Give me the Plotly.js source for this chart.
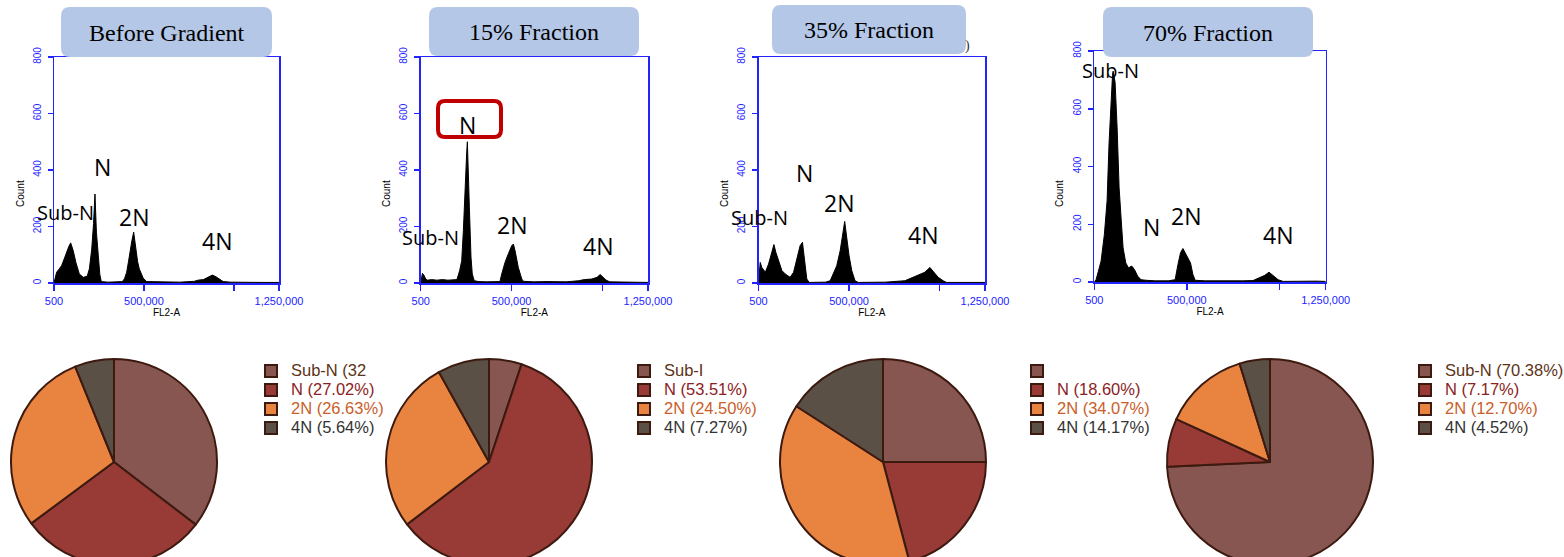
<!DOCTYPE html>
<html><head><meta charset="utf-8">
<script src="https://cdn.plot.ly/plotly-3.0.1.min.js"></script>
<style>html,body{margin:0;padding:0;overflow:hidden;background:#fff}#chart{width:1564px;height:580px}</style>
</head><body><div id="chart"></div>
<script>
// ---------- data ----------
const panelTitles = ['Before Gradient', '15% Fraction', '35% Fraction', '70% Fraction'];
const fl2Ticks = [500, 500000, 1000000, 1250000];
const fl2TickText = ['500', '500,000', '', '1,250,000'];
const countTicks = [0, 200, 400, 600, 800];

const beforeFL2 = [500, 8000, 15000, 30000, 43000, 57000, 70000, 82000, 93000, 107000, 122000, 141000, 163000, 185000, 197000, 210000, 220000, 228000, 236000, 245000, 255000, 263000, 300000, 350000, 380000, 392000, 404000, 414000, 422000, 433000, 443000, 450000, 456000, 465000, 474000, 485000, 496000, 515000, 600000, 700000, 780000, 800000, 830000, 860000, 880000, 900000, 920000, 940000, 980000, 1050000, 1150000, 1250000];
const beforeCount = [0, 25, 38, 50, 62, 85, 109, 128, 142, 115, 73, 32, 20, 24, 50, 120, 210, 315, 180, 95, 30, 5, 3, 4, 5, 15, 38, 75, 109, 150, 180, 150, 109, 75, 50, 30, 17, 5, 4, 3, 6, 10, 12, 20, 28, 22, 12, 5, 3, 2, 2, 2];

const frac15FL2 = [500, 10000, 18000, 28000, 38000, 60000, 90000, 120000, 150000, 180000, 200000, 215000, 226000, 235000, 244000, 253000, 257000, 262000, 268000, 277000, 284000, 295000, 320000, 360000, 400000, 436000, 446000, 464000, 482000, 501000, 510000, 519000, 537000, 556000, 565000, 620000, 700000, 800000, 868000, 900000, 940000, 970000, 987000, 1000000, 1020000, 1040000, 1100000, 1180000, 1250000];
const frac15Count = [0, 34, 28, 14, 10, 12, 10, 12, 10, 10, 12, 45, 79, 185, 350, 457, 500, 362, 268, 91, 32, 8, 5, 4, 5, 5, 32, 73, 103, 132, 138, 115, 55, 14, 6, 4, 5, 4, 8, 12, 14, 20, 30, 22, 10, 4, 3, 3, 2];

const frac35FL2 = [500, 10000, 19000, 38000, 56000, 74500, 85500, 96500, 111000, 129500, 148000, 175000, 194000, 212000, 230000, 243000, 254000, 267000, 280000, 320000, 370000, 396000, 414000, 432000, 451000, 464000, 476000, 487000, 500000, 515000, 533000, 551000, 600000, 700000, 808000, 845000, 882000, 918000, 946000, 970000, 992000, 1019000, 1038000, 1100000, 1180000, 1250000];
const frac35Count = [0, 73, 55, 38, 67, 114, 136, 108, 79, 44, 32, 20, 38, 91, 132, 144, 85, 14, 2, 3, 3, 8, 32, 61, 114, 173, 218, 162, 97, 44, 8, 2, 3, 3, 8, 18, 26, 38, 55, 38, 20, 8, 2, 2, 2, 2];

const frac70FL2 = [500, 10000, 22500, 37000, 55000, 69500, 80000, 91000, 98700, 102000, 112700, 123600, 134400, 145000, 156000, 170500, 185000, 203000, 217400, 235000, 253000, 280000, 330000, 400000, 437000, 452000, 466000, 479000, 491500, 506000, 520000, 533000, 545000, 600000, 700000, 800000, 857700, 893800, 920800, 944000, 966000, 993000, 1020000, 1100000, 1200000, 1250000];
const frac70Count = [0, 8, 37, 72, 165, 281, 478, 652, 716, 730, 692, 536, 327, 223, 118, 66, 49, 55, 43, 20, 8, 6, 4, 4, 8, 60, 101, 116, 101, 78, 66, 26, 6, 4, 3, 4, 5, 14, 23, 34, 22, 8, 2, 3, 3, 2];

const populations = ['Sub-N', 'N', '2N', '4N'];
const beforePct = [32.5, 27.02, 26.63, 5.64];
const frac15Pct = [4.6, 53.51, 24.50, 7.27];
const frac35Pct = [22.3, 18.60, 34.07, 14.17];
const frac70Pct = [70.38, 7.17, 12.70, 4.52];
const beforeLegend = ['Sub-N (32', 'N (27.02%)', '2N (26.63%)', '4N (5.64%)'];
const frac15Legend = ['Sub-I', 'N (53.51%)', '2N (24.50%)', '4N (7.27%)'];
const frac35Legend = ['\u00a0', 'N (18.60%)', '2N (34.07%)', '4N (14.17%)'];
const frac70Legend = ['Sub-N (70.38%)', 'N (7.17%)', '2N (12.70%)', '4N (4.52%)'];

const peakLabels = ['Sub-N', 'N', '2N', '4N'];

// ---------- styling / layout helpers ----------
const W = 1564, H = 580;
const BLUE = '#2323ff';
const sliceColors = ['#875650', '#983a35', '#e8843f', '#5b5046'];
const legendTextColors = ['#5c3317', '#8b2222', '#c8602a', '#333333'];
const px = x => x / W;
const py = y => 1 - y / H;

const hist = [
  {x: beforeFL2, y: beforeCount, l: 54, r: 279, t: 57, b: 283},
  {x: frac15FL2, y: frac15Count, l: 420.7, r: 648, t: 57, b: 283},
  {x: frac35FL2, y: frac35Count, l: 758.5, r: 985, t: 57, b: 283},
  {x: frac70FL2, y: frac70Count, l: 1094.3, r: 1325.7, t: 51, b: 282}
];
const pies = [
  {v: beforePct, t: beforeLegend, cx: 114, lx: 251},
  {v: frac15Pct, t: frac15Legend, cx: 489, lx: 624},
  {v: frac35Pct, t: frac35Legend, cx: 883, lx: 1017},
  {v: frac70Pct, t: frac70Legend, cx: 1270, lx: 1405}
];
const titleBoxes = [[61, 7, 272, 57], [429, 7, 639, 56], [772, 5, 966, 54], [1103, 7, 1313, 57]];
const countPos = [20, 386, 724, 1059];
// peak label pixel positions: [Sub-N, N, 2N, 4N]
const peakPos = [
  [[65, 212], [102, 167], [134, 217], [217, 241]],
  [[430, 237], [467, 125], [512, 225], [598, 246]],
  [[759, 218], [804, 173], [839, 203], [923, 235]],
  [[1110, 70], [1151, 227], [1186, 216], [1278, 235]]
];

function roundRect(x0, y0, x1, y1, r) {
  const X = v => px(v), Y = v => py(v);
  return `M${X(x0 + r)},${Y(y0)} L${X(x1 - r)},${Y(y0)} Q${X(x1)},${Y(y0)} ${X(x1)},${Y(y0 + r)} ` +
    `L${X(x1)},${Y(y1 - r)} Q${X(x1)},${Y(y1)} ${X(x1 - r)},${Y(y1)} L${X(x0 + r)},${Y(y1)} ` +
    `Q${X(x0)},${Y(y1)} ${X(x0)},${Y(y1 - r)} L${X(x0)},${Y(y0 + r)} Q${X(x0)},${Y(y0)} ${X(x0 + r)},${Y(y0)} Z`;
}

const data = [];
const layout = {
  width: W, height: H,
  margin: {l: 0, r: 0, t: 0, b: 0, autoexpand: false},
  paper_bgcolor: '#fff', plot_bgcolor: '#fff',
  showlegend: true,
  shapes: [], annotations: []
};

hist.forEach((h, i) => {
  const n = i === 0 ? '' : String(i + 1);
  data.push({
    type: 'scatter', mode: 'lines', x: h.x, y: h.y,
    xaxis: 'x' + n, yaxis: 'y' + n,
    fill: 'tozeroy', fillcolor: '#000', line: {color: '#000', width: 1},
    showlegend: false, hoverinfo: 'skip'
  });
  layout['xaxis' + n] = {
    domain: [px(h.l), px(h.r)], anchor: 'y' + n, range: [500, 1250000],
    tickmode: 'array', tickvals: fl2Ticks, ticktext: fl2TickText,
    ticks: 'outside', ticklen: 6, tickwidth: 1.5, tickcolor: BLUE,
    showline: true, linecolor: BLUE, linewidth: 1.5, mirror: true,
    showgrid: false, zeroline: false, ticklabelstandoff: 1,
    tickfont: {family: 'Liberation Sans, Arial, sans-serif', size: 11, color: BLUE},
    title: {text: 'FL2-A', standoff: 0, font: {family: 'Liberation Sans, Arial, sans-serif', size: 10, color: '#000'}},
    fixedrange: true
  };
  layout['yaxis' + n] = {
    domain: [py(h.b), py(h.t)], anchor: 'x' + n, range: [0, 800],
    tickmode: 'array', tickvals: countTicks, tickangle: -90,
    ticks: 'outside', ticklen: 5, tickwidth: 1.5, tickcolor: BLUE,
    showline: true, linecolor: BLUE, linewidth: 1.5, mirror: true,
    showgrid: false, zeroline: false, ticklabelstandoff: 3,
    tickfont: {family: 'Liberation Sans, Arial, sans-serif', size: 10, color: BLUE},
    fixedrange: true
  };
  // title box
  const b = titleBoxes[i];
  layout.shapes.push({type: 'path', xref: 'paper', yref: 'paper', path: roundRect(b[0], b[1], b[2], b[3], 9),
    fillcolor: '#b4c7e7', line: {width: 0}, layer: 'above'});
  layout.annotations.push({xref: 'paper', yref: 'paper', x: px((b[0] + b[2]) / 2), y: py((b[1] + b[3]) / 2 + 1),
    text: panelTitles[i], showarrow: false, xanchor: 'center', yanchor: 'middle',
    font: {family: 'Liberation Serif, Times New Roman, serif', size: 24, color: '#000'}});
  // Count label
  layout.annotations.push({xref: 'paper', yref: 'paper', x: px(countPos[i]), y: py(194), text: 'Count',
    textangle: -90, showarrow: false, xanchor: 'center', yanchor: 'middle',
    font: {family: 'Liberation Sans, Arial, sans-serif', size: 10, color: '#000'}});
  // peak labels
  peakPos[i].forEach((p, k) => {
    layout.annotations.push({xref: 'paper', yref: 'paper', x: px(p[0]), y: py(p[1]), text: peakLabels[k],
      showarrow: false, xanchor: 'center', yanchor: 'middle',
      font: {family: 'Open Sans, Noto Sans, sans-serif', size: k === 0 ? 20 : 23, color: '#000'}});
  });
});

// red highlight box around N in the 15% fraction
layout.shapes.push({type: 'path', xref: 'paper', yref: 'paper', path: roundRect(438, 101, 501, 137, 7),
  fillcolor: 'rgba(0,0,0,0)', line: {color: '#c00000', width: 4}, layer: 'above'});
// stray bracket beside 35% title box
layout.annotations.push({xref: 'paper', yref: 'paper', x: px(967), y: py(46), text: ')', showarrow: false,
  xanchor: 'center', yanchor: 'middle', font: {family: 'Liberation Serif, serif', size: 14, color: '#333'}});

// pies
const R = 103, CY = 462;
pies.forEach((p, i) => {
  const lid = i === 0 ? 'legend' : 'legend' + (i + 1);
  data.push({
    type: 'pie', values: p.v,
    labels: p.t.map((t, k) => `<span style="color:${legendTextColors[k]};font-size:16.5px">${t}</span>`),
    customdata: populations,
    sort: false, direction: 'clockwise', rotation: 0, textinfo: 'none', hoverinfo: 'skip',
    marker: {colors: sliceColors, line: {color: '#3d1a10', width: 2}},
    domain: {x: [px(p.cx - R), px(p.cx + R)], y: [py(CY + R), py(CY - R)]},
    legend: lid, showlegend: true
  });
  layout[lid] = {
    x: px(p.lx), y: py(356.5), xref: 'paper', yref: 'paper', xanchor: 'left', yanchor: 'top',
    bgcolor: 'rgba(0,0,0,0)', borderwidth: 0, traceorder: 'normal',
    font: {family: 'Liberation Sans, Arial, sans-serif', size: 12.2, color: '#333'}
  };
});

Plotly.newPlot('chart', data, layout, {staticPlot: true, displayModeBar: false});
</script>
</body></html>
